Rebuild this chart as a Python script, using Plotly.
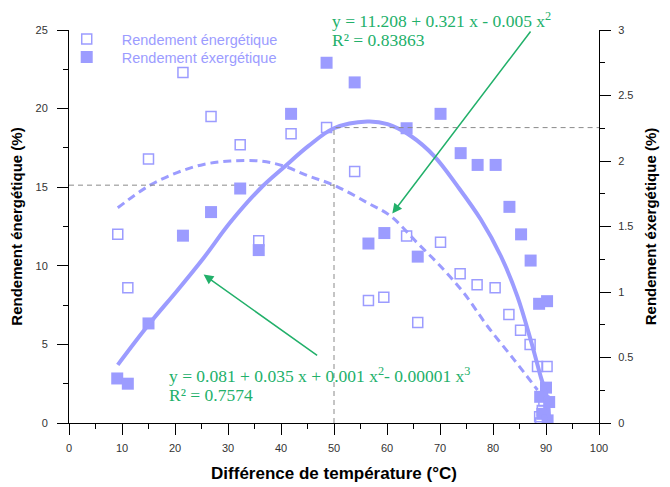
import plotly.graph_objects as go

# ---------------- data ----------------
x_energy = [9.2, 11.1, 15.0, 21.5, 26.8, 32.3, 35.8, 41.9, 48.6, 53.9, 56.5, 59.4, 63.7, 65.8,
            70.1, 73.8, 77.0, 80.4, 83.0, 85.2, 87.0, 88.4, 90.2, 89.3, 89.0, 89.6, 88.8]
y_energy = [12.0, 8.6, 16.8, 22.3, 19.5, 17.7, 11.6, 18.4, 18.8, 16.0, 7.8, 8.0, 11.9, 6.4,
            11.5, 9.5, 8.8, 8.6, 6.9, 5.9, 5.0, 3.6, 3.6, 0.8, 0.0, 1.4, 0.4]

x_exergy = [9.1, 11.1, 15.0, 21.5, 26.8, 32.3, 35.8, 41.9, 48.6, 53.9, 56.5, 59.5, 63.7, 65.8,
            70.1, 73.9, 77.1, 80.5, 83.1, 85.3, 87.1, 88.7, 90.2, 90.0, 88.9, 90.6, 89.3, 90.3]
y_exergy = [0.34, 0.30, 0.76, 1.43, 1.61, 1.79, 1.32, 2.36, 2.75, 2.60, 1.37, 1.45, 2.25, 1.27,
            2.36, 2.06, 1.97, 1.97, 1.65, 1.44, 1.24, 0.91, 0.93, 0.27, 0.20, 0.16, 0.07, 0.02]

# fitted curves
fit_en_x = [9.2, 15.0, 20.4, 25.4, 30.4, 36.1, 40.5, 45.2, 50.0, 56.3, 60.7, 65.7, 70.1, 74.5,
            79.0, 84.0, 88.4]
fit_en_y = [13.69, 15.07, 15.93, 16.45, 16.66, 16.66, 16.35, 15.71, 15.13, 14.01, 13.16, 11.46,
            9.97, 8.27, 6.14, 4.02, 2.10]

fit_ex_x = [9.2, 15.0, 20.4, 25.4, 30.4, 36.1, 40.5, 45.2, 50.0, 56.3, 60.1, 64.5, 68.9, 73.3,
            77.7, 81.5, 84.6, 87.1, 89.0, 90.3, 90.6]
fit_ex_y = [0.444, 0.75, 1.01, 1.26, 1.53, 1.79, 1.95, 2.115, 2.25, 2.301, 2.281, 2.191,
            2.038, 1.808, 1.553, 1.273, 0.967, 0.635, 0.354, 0.176, 0.0]

# reference (read-off) lines
ref_x = 50.0
ref_energy = 15.13
ref_exergy = 2.255

# equations text (one entry per line)
eq_energy_lines = ["y = 11.208 + 0.321 x - 0.005 x<sup>2</sup>", "R² = 0.83863"]
eq_exergy_lines = ["y = 0.081 + 0.035 x + 0.001 x<sup>2</sup>- 0.00001 x<sup>3</sup>",
                   "R² = 0.7574"]

# ---------------- style / placement ----------------
PURPLE = "#9c9cff"
GREEN = "#22b06a"
GRAY = "#8a8a8a"
SANS = "Liberation Sans, Arial, sans-serif"
SERIF = "Liberation Serif, Times New Roman, serif"
NBSP = "\u00a0"

# paper coords (left x, middle y of each line)
eq_energy_pos = [(0.4925, 1.0242), (0.4925, 0.9746)]
eq_exergy_pos = [(0.1843, 0.1214), (0.1843, 0.072)]
arrow_energy = dict(head=(61.0, 13.33), tail=(87.3, 25.0))
arrow_exergy = dict(head=(25.4, 9.44), tail=(47.1, 4.23))

fig = go.Figure()

fig.add_trace(go.Scatter(
    x=x_energy, y=y_energy, mode="markers", name="Rendement énergétique",
    marker=dict(symbol="square-open", size=10, color=PURPLE, line=dict(width=1.5, color=PURPLE)),
    yaxis="y", legend="legend"))
fig.add_trace(go.Scatter(
    x=x_exergy, y=y_exergy, mode="markers", name="Rendement éxergétique",
    marker=dict(symbol="square", size=12, color=PURPLE, line=dict(width=0)),
    yaxis="y2", legend="legend2"))
fig.add_trace(go.Scatter(
    x=fit_en_x, y=fit_en_y, mode="lines",
    line=dict(color=PURPLE, width=3, dash="8px,5px", shape="spline"),
    showlegend=False, yaxis="y", hoverinfo="skip"))
fig.add_trace(go.Scatter(
    x=fit_ex_x, y=fit_ex_y, mode="lines", line=dict(color=PURPLE, width=4, shape="spline"),
    showlegend=False, yaxis="y2", hoverinfo="skip"))

# gray dashed read-off lines
fig.add_trace(go.Scatter(x=[0, ref_x], y=[ref_energy, ref_energy], mode="lines",
                         line=dict(color=GRAY, width=1, dash="5px,4px"), showlegend=False,
                         yaxis="y", hoverinfo="skip"))
fig.add_trace(go.Scatter(x=[ref_x, ref_x, 100], y=[0, ref_exergy, ref_exergy], mode="lines",
                         line=dict(color=GRAY, width=1, dash="5px,4px"), showlegend=False,
                         yaxis="y2", hoverinfo="skip"))

annotations = []
for lines, positions in ((eq_energy_lines, eq_energy_pos), (eq_exergy_lines, eq_exergy_pos)):
    for txt, (px, py) in zip(lines, positions):
        annotations.append(dict(x=px, y=py, xref="paper", yref="paper", text=txt,
                                showarrow=False, xanchor="left", yanchor="middle", align="left",
                                font=dict(family=SERIF, size=17.5, color=GREEN)))
for arr in (arrow_energy, arrow_exergy):
    annotations.append(dict(x=arr["head"][0], y=arr["head"][1], xref="x", yref="y",
                            ax=arr["tail"][0], ay=arr["tail"][1], axref="x", ayref="y",
                            text="", showarrow=True, arrowhead=2, arrowsize=1.3,
                            arrowwidth=1.5, arrowcolor=GREEN))

axis_common = dict(showline=True, linecolor="black", linewidth=1, ticks="outside",
                   ticklen=11, tickwidth=1, tickcolor="black", showgrid=False, zeroline=False,
                   automargin=False,
                   tickfont=dict(family=SANS, size=11, color="#333333"))

legend_common = dict(xanchor="left", yanchor="middle", bgcolor="rgba(0,0,0,0)",
                     font=dict(family=SANS, size=14.5, color=PURPLE), itemwidth=60,
                     borderwidth=0)

fig.update_layout(
    width=670, height=487,
    margin=dict(l=61, r=79, t=22, b=72),
    paper_bgcolor="white", plot_bgcolor="white",
    showlegend=True,
    legend=dict(x=-0.0326, y=0.977, **legend_common),
    legend2=dict(x=-0.0326, y=0.931, **legend_common),
    xaxis=dict(range=[0, 100], dtick=10, ticklabelstandoff=4, **axis_common,
               minor=dict(dtick=5, ticklen=5, tickcolor="black", ticks="outside"),
               title=dict(text="<b>Différence de température (°C)</b>" + NBSP * 4,
                          font=dict(family=SANS, size=17, color="black"), standoff=13)),
    yaxis=dict(range=[0, 25], dtick=5, ticklabelstandoff=7, **axis_common,
               minor=dict(dtick=2.5, ticklen=5, tickcolor="black", ticks="outside"),
               title=dict(text="<b>Rendement énergétique (%)</b>",
                          font=dict(family=SANS, size=15, color="black"), standoff=10)),
    yaxis2=dict(range=[0, 3], dtick=0.5, overlaying="y", side="right", ticklabelstandoff=5,
                **axis_common,
                minor=dict(dtick=0.25, ticklen=5, tickcolor="black", ticks="outside"),
                title=dict(text="<b>Rendement éxergétique (%)</b>",
                           font=dict(family=SANS, size=15, color="black"), standoff=13)),
    annotations=annotations,
)

fig.write_html("out.html")
